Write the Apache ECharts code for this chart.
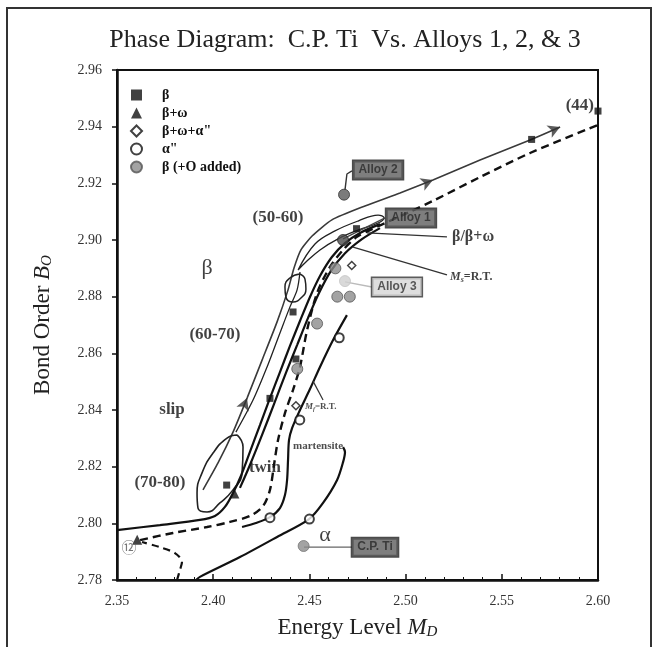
<!DOCTYPE html>
<html>
<head>
<meta charset="utf-8">
<script src="https://cdn.jsdelivr.net/npm/echarts@6/dist/echarts.min.js"></script>
<style>
  html, body { margin: 0; padding: 0; background: #fff; }
  #chart { width: 659px; height: 647px; }
</style>
</head>
<body>
<div id="chart"></div>
<script>
// Bo–Md phase diagram: commercially pure Ti against three beta alloys

const mdRange = [2.35, 2.60];
const boRange = [2.78, 2.96];
const mdStep = 0.05;
const boStep = 0.02;

// Alloys grouped by observed phase [Md, Bo]
const betaPts = [[2.600, 2.9455], [2.5655, 2.9355], [2.4745, 2.904], [2.4415, 2.8746],
                 [2.443, 2.858], [2.4295, 2.8441], [2.407, 2.8135]];
const betaOmegaPts = [[2.411, 2.8105], [2.3605, 2.7942]];
const betaOmegaAlphaPts = [[2.472, 2.891], [2.443, 2.8415]];
const alphaDblPts = [[2.4655, 2.8655], [2.445, 2.8365], [2.4295, 2.802], [2.450, 2.8015]];
const betaOxygenPts = [[2.4635, 2.890], [2.4645, 2.880], [2.471, 2.880], [2.454, 2.8705], [2.4437, 2.8545]];
const alloy1 = [2.4675, 2.900];
const alloy2 = [2.468, 2.916];
const alloy3 = [2.4685, 2.8855];
const cpTi = [2.447, 2.792];

// Alloying vector (arrowed path)
const vectorPath = [[2.3947, 2.8118], [2.4025, 2.8213], [2.4103, 2.8322], [2.4176, 2.8442],
  [2.4254, 2.8576], [2.4332, 2.8711], [2.4389, 2.8824], [2.4420, 2.8901], [2.4456, 2.8965],
  [2.4514, 2.9014], [2.4617, 2.9071], [2.4789, 2.9120], [2.4971, 2.9166], [2.5142, 2.9212],
  [2.5387, 2.9282], [2.5647, 2.9353], [2.5803, 2.9399]];
const arrowAt = [3, 13, 16];

// Elastic modulus ranges (GPa)
const loop6070 = [[2.4118, 2.8322], [2.4207, 2.8435], [2.4280, 2.8552], [2.4347, 2.8672],
  [2.4399, 2.8764], [2.4436, 2.8824], [2.4451, 2.8887]];
const ring5060 = [[2.4451, 2.8880], [2.4477, 2.8862], [2.4482, 2.8827], [2.4456, 2.8795],
  [2.4415, 2.8781], [2.4378, 2.8799], [2.4373, 2.8834], [2.4399, 2.8866], [2.4451, 2.8880]];
const loop5060 = [[2.4441, 2.8894], [2.4529, 2.8986], [2.4633, 2.9032], [2.4753, 2.9067],
  [2.4857, 2.9088], [2.4888, 2.9078], [2.4857, 2.9060], [2.4753, 2.9035], [2.4649, 2.9004],
  [2.4555, 2.8965], [2.4482, 2.8922], [2.4441, 2.8894]];
const ring7080 = [[2.4124, 2.8312], [2.4155, 2.8269], [2.4150, 2.8178], [2.4103, 2.8118],
  [2.4035, 2.8072], [2.3968, 2.8040], [2.3921, 2.8054], [2.3916, 2.8107], [2.3942, 2.8178],
  [2.3999, 2.8248], [2.4072, 2.8301], [2.4124, 2.8312]];

// Phase boundaries
const betaOmegaLine = [[2.3500, 2.7976], [2.3723, 2.7994], [2.3931, 2.8012], [2.4009, 2.8026],
  [2.4061, 2.8058], [2.4103, 2.8107], [2.4144, 2.8167], [2.4191, 2.8252], [2.4243, 2.8347],
  [2.4295, 2.8442], [2.4347, 2.8534], [2.4399, 2.8626], [2.4451, 2.8714], [2.4503, 2.8799],
  [2.4555, 2.8873], [2.4617, 2.8940], [2.4685, 2.8989], [2.4763, 2.9025], [2.4867, 2.9056]];
const msLine = [[2.4139, 2.8125], [2.4191, 2.8206], [2.4254, 2.8312], [2.4316, 2.8421],
  [2.4378, 2.8531], [2.4436, 2.8629], [2.4493, 2.8725], [2.4550, 2.8813], [2.4612, 2.8891],
  [2.4685, 2.8953], [2.4773, 2.9003], [2.4867, 2.9042]];
const dashedLine = [[2.3620, 2.7941], [2.3791, 2.7966], [2.3968, 2.7987], [2.4087, 2.8005],
  [2.4191, 2.8026], [2.4259, 2.8061], [2.4295, 2.8118], [2.4316, 2.8206], [2.4337, 2.8294],
  [2.4373, 2.8389], [2.4415, 2.8471], [2.4451, 2.8552], [2.4488, 2.8682], [2.4540, 2.8813],
  [2.4607, 2.8905], [2.4675, 2.8965], [2.4747, 2.9011], [2.4815, 2.9035], [2.5007, 2.9095],
  [2.5142, 2.9138], [2.5387, 2.9222], [2.5647, 2.9307], [2.6000, 2.9406]];
const dashedHook = [[2.3812, 2.7800], [2.3827, 2.7835], [2.3838, 2.7864], [2.3801, 2.7895],
  [2.3723, 2.7916], [2.3630, 2.7934]];
const mfLine = [[2.4150, 2.7987], [2.4222, 2.8001], [2.4295, 2.8022], [2.4347, 2.8054],
  [2.4373, 2.8100], [2.4384, 2.8153], [2.4389, 2.8224], [2.4394, 2.8294], [2.4410, 2.8336],
  [2.4451, 2.8400], [2.4503, 2.8474], [2.4555, 2.8552], [2.4623, 2.8647], [2.4695, 2.8735]];
const martensiteLine = [[2.3911, 2.7800], [2.3931, 2.7811], [2.4139, 2.7881], [2.4332, 2.7952],
  [2.4498, 2.8015], [2.4571, 2.8072], [2.4644, 2.8153], [2.4675, 2.8216], [2.4685, 2.8252],
  [2.4675, 2.8269]];

// Leader lines from notes to the curves and points
const leaderBetaOmega = [[2.4799, 2.9025], [2.5215, 2.9011]];
const leaderMs = [[2.4727, 2.8975], [2.5215, 2.8877]];
const leaderMf = [[2.4519, 2.8502], [2.4571, 2.8435]];
const leaderAlloy2 = [[2.4685, 2.9177], [2.4695, 2.9233], [2.4721, 2.9244]];
const leaderAlloy1 = [[2.4675, 2.9004], [2.4893, 2.9078]];
const leaderAlloy3 = [[2.4685, 2.8852], [2.4825, 2.8834]];
const leaderCpTi = [[2.4472, 2.7916], [2.4721, 2.7916]];

const SERIF = "'Liberation Serif', 'DejaVu Serif', serif";
const SANS = "'Liberation Sans', Arial, sans-serif";

// Notes placed on the diagram: [Md, Bo, text, style]
const notes = [
  [2.5979, 2.9473, '(44)', 'num'],
  [2.4337, 2.9078, '(50-60)', 'region'],
  [2.3968, 2.8901, 'β', 'greek'],
  [2.4009, 2.8665, '(60-70)', 'region'],
  [2.3786, 2.8400, 'slip', 'region'],
  [2.3723, 2.8142, '(70-80)', 'region'],
  [2.4269, 2.8195, 'twin', 'region'],
  [2.4545, 2.8273, 'martensite', 'tiny'],
  [2.4581, 2.7959, 'α', 'greek'],
  [2.5241, 2.9011, 'β/β+ω', 'boundary'],
  [2.5231, 2.8869, '{m|M}{s|s}{t|=R.T.}', 'ms'],
  [2.4477, 2.8411, '{m|M}{s|f}{t|=R.T.}', 'mf'],
  [2.3562, 2.7909, '⑫', 'circled'],
  [2.4857, 2.9247, 'Alloy 2', 'boxDark'],
  [2.5028, 2.9078, 'Alloy 1', 'boxDark'],
  [2.4955, 2.8834, 'Alloy 3', 'boxLight'],
  [2.4841, 2.7916, 'C.P. Ti', 'boxDark']
];

const noteStyles = {
  num: { fontFamily: SERIF, fontSize: 17, fontWeight: 'bold', color: '#111', align: 'right' },
  region: { fontFamily: SERIF, fontSize: 17, fontWeight: 'bold', color: '#111', align: 'center' },
  greek: { fontFamily: SERIF, fontSize: 22, color: '#111', align: 'center' },
  tiny: { fontFamily: SERIF, fontSize: 11, fontWeight: 'bold', color: '#222', align: 'center' },
  boundary: { fontFamily: SERIF, fontSize: 16, fontWeight: 'bold', color: '#111', align: 'left' },
  ms: { align: 'left', rich: {
      m: { fontFamily: SERIF, fontSize: 12, fontStyle: 'italic', fontWeight: 'bold', color: '#111' },
      s: { fontFamily: SERIF, fontSize: 8, fontStyle: 'italic', fontWeight: 'bold', color: '#111', padding: [6, 0, 0, 0] },
      t: { fontFamily: SERIF, fontSize: 12, fontWeight: 'bold', color: '#111' } } },
  mf: { align: 'left', rich: {
      m: { fontFamily: SERIF, fontSize: 9, fontStyle: 'italic', fontWeight: 'bold', color: '#222' },
      s: { fontFamily: SERIF, fontSize: 6, fontStyle: 'italic', fontWeight: 'bold', color: '#222', padding: [5, 0, 0, 0] },
      t: { fontFamily: SERIF, fontSize: 9, fontWeight: 'bold', color: '#222' } } },
  circled: { fontFamily: "'DejaVu Sans', 'Noto Sans CJK SC', sans-serif", fontSize: 15, color: '#555', align: 'center' },
  boxDark: { fontFamily: SANS, fontSize: 12, fontWeight: 'bold', color: '#2a2a2a', align: 'center',
             backgroundColor: '#5e5e5e', borderColor: '#1e1e1e', borderWidth: 1.5, padding: [3, 5, 3, 5] },
  boxLight: { fontFamily: SANS, fontSize: 12, fontWeight: 'bold', color: '#333', align: 'center',
              backgroundColor: '#d6d6d6', borderColor: '#333', borderWidth: 1.5, padding: [3, 5, 3, 5] }
};

function curve(name, data, opts) {
  return Object.assign({
    type: 'line', name: name, data: data, symbol: 'none', silent: true, z: 2,
    smooth: 0.3, animation: false,
    lineStyle: { color: '#111', width: 2 }
  }, opts || {});
}

const chart = echarts.init(document.getElementById('chart'), null, { renderer: 'canvas' });

const axisNameRich = {
  i: { fontFamily: SERIF, fontSize: 23, fontStyle: 'italic', color: '#222' },
  s: { fontFamily: SERIF, fontSize: 15, fontStyle: 'italic', color: '#222', padding: [9, 0, 0, 0] }
};

const option = {
  animation: false,
  backgroundColor: '#fff',
  title: {
    text: 'Phase Diagram:  C.P. Ti  Vs. Alloys 1, 2, & 3',
    left: 340, top: 22, textAlign: 'center',
    textStyle: { fontFamily: SERIF, fontSize: 26, fontWeight: 'normal', color: '#222' }
  },
  graphic: [{
    type: 'rect', shape: { x: 7, y: 8, width: 644, height: 660 },
    style: { fill: 'none', stroke: '#333', lineWidth: 2 }, silent: true
  }],
  grid: { left: 117, right: 61, top: 70, bottom: 67, show: true, borderColor: '#111', borderWidth: 2, backgroundColor: 'transparent' },
  legend: {
    orient: 'vertical', left: 125, top: 83, itemWidth: 11, itemHeight: 11, itemGap: 4,
    textStyle: { fontFamily: SERIF, fontSize: 14, fontWeight: 'bold', color: '#111', lineHeight: 11, padding: [0, 0, 0, 15] },
    data: ['β', 'β+ω', 'β+ω+α"', 'α"', 'β (+O added)'],
    selectedMode: false
  },
  xAxis: {
    type: 'value', min: mdRange[0], max: mdRange[1], interval: mdStep,
    name: 'Energy Level {i|M}{s|D}', nameLocation: 'middle', nameGap: 36,
    nameTextStyle: { fontFamily: SERIF, fontSize: 23, color: '#222', rich: axisNameRich },
    axisLine: { lineStyle: { color: '#111', width: 2.5 } },
    axisTick: { inside: true, length: 6, lineStyle: { color: '#111', width: 1.5 } },
    minorTick: { show: true, splitNumber: 5, length: 3, lineStyle: { color: '#111', width: 1 } },
    axisLabel: { fontFamily: SERIF, fontSize: 14, color: '#333', margin: 14, formatter: v => v.toFixed(2) },
    splitLine: { show: false }
  },
  yAxis: {
    type: 'value', min: boRange[0], max: boRange[1], interval: boStep,
    name: 'Bond Order {i|B}{s|O}', nameLocation: 'middle', nameGap: 62, nameRotate: 90,
    nameTextStyle: { fontFamily: SERIF, fontSize: 23, color: '#222', rich: axisNameRich },
    axisLine: { lineStyle: { color: '#111', width: 2.5 } },
    axisTick: { inside: false, length: 5, lineStyle: { color: '#111', width: 1.5 } },
    axisLabel: { fontFamily: SERIF, fontSize: 14, color: '#333', margin: 15, formatter: v => v.toFixed(2) },
    splitLine: { show: false }
  },
  series: [
    curve('vector', vectorPath, { lineStyle: { color: '#3a3a3a', width: 1.6 }, smooth: 0.2 }),
    curve('loop6070', loop6070, { lineStyle: { color: '#222', width: 1.3 } }),
    curve('ring5060', ring5060, { lineStyle: { color: '#222', width: 1.5 }, smooth: 0.5 }),
    curve('loop5060', loop5060, { lineStyle: { color: '#222', width: 1.3 }, smooth: 0.4 }),
    curve('ring7080', ring7080, { lineStyle: { color: '#222', width: 1.6 }, smooth: 0.5 }),
    curve('betaOmegaLine', betaOmegaLine, { lineStyle: { color: '#111', width: 2.2 } }),
    curve('msLine', msLine, { lineStyle: { color: '#111', width: 2.2 } }),
    curve('dashedLine', dashedLine, { lineStyle: { color: '#111', width: 2.4, type: [8, 5] } }),
    curve('dashedHook', dashedHook, { lineStyle: { color: '#111', width: 2.2, type: [7, 5] } }),
    curve('mfLine', mfLine, { lineStyle: { color: '#111', width: 2.2 } }),
    curve('martensiteLine', martensiteLine, { lineStyle: { color: '#111', width: 2.2 } }),
    curve('leaderBetaOmega', leaderBetaOmega, { smooth: false, lineStyle: { color: '#333', width: 1.4 } }),
    curve('leaderMs', leaderMs, { smooth: false, lineStyle: { color: '#333', width: 1.4 } }),
    curve('leaderMf', leaderMf, { smooth: false, lineStyle: { color: '#333', width: 1.2 } }),
    curve('leaderAlloy2', leaderAlloy2, { smooth: false, lineStyle: { color: '#333', width: 1.4 } }),
    curve('leaderAlloy1', leaderAlloy1, { smooth: false, lineStyle: { color: '#444', width: 1.2 } }),
    curve('leaderAlloy3', leaderAlloy3, { smooth: false, lineStyle: { color: '#bbb', width: 1.4 } }),
    curve('leaderCpTi', leaderCpTi, { smooth: false, lineStyle: { color: '#666', width: 1.4 } }),
    {
      id: 'arrows', type: 'scatter', silent: true, z: 3, clip: false,
      symbol: 'arrow', symbolSize: [10, 12], itemStyle: { color: '#333' }, data: []
    },
    {
      type: 'scatter', name: 'β', data: betaPts, symbol: 'rect', symbolSize: 7, z: 4, clip: false,
      itemStyle: { color: '#111' }
    },
    {
      type: 'scatter', name: 'β+ω', data: betaOmegaPts, symbol: 'triangle', symbolSize: 10, z: 4,
      itemStyle: { color: '#111' }
    },
    {
      type: 'scatter', name: 'β+ω+α"', data: betaOmegaAlphaPts, symbol: 'diamond', symbolSize: 8, z: 4,
      itemStyle: { color: '#fff', borderColor: '#111', borderWidth: 1.5 }
    },
    {
      type: 'scatter', name: 'α"', data: alphaDblPts, symbol: 'circle', symbolSize: 9, z: 4,
      itemStyle: { color: '#fff', borderColor: '#111', borderWidth: 2 }
    },
    {
      type: 'scatter', name: 'β (+O added)', symbol: 'circle', symbolSize: 11, z: 4,
      itemStyle: { color: '#8c8c8c', borderColor: '#555', borderWidth: 1 },
      data: betaOxygenPts.concat([
        { value: alloy2, itemStyle: { color: '#5a5a5a', borderColor: '#333' } },
        { value: alloy1, itemStyle: { color: '#4a4a4a', borderColor: '#222' } },
        { value: alloy3, itemStyle: { color: '#d0d0d0', borderColor: '#c4c4c4' } },
        { value: cpTi, itemStyle: { color: '#8c8c8c', borderColor: '#777' } }
      ])
    },
    {
      type: 'scatter', name: 'notes', silent: true, symbolSize: 0, z: 6, clip: false,
      data: notes.map(n => ({
        value: [n[0], n[1]],
        label: Object.assign({ show: true, position: 'inside', verticalAlign: 'middle', formatter: n[2] }, noteStyles[n[3]])
      }))
    }
  ]
};

chart.setOption(option);

// Orient each arrowhead along the local direction of the vector path
const arrowItems = arrowAt.map(i => {
  const a = chart.convertToPixel({ gridIndex: 0 }, vectorPath[i - 1]);
  const b = chart.convertToPixel({ gridIndex: 0 }, vectorPath[Math.min(i + 1, vectorPath.length - 1)]);
  const deg = Math.atan2(-(b[1] - a[1]), b[0] - a[0]) * 180 / Math.PI;
  return { value: vectorPath[i], symbolRotate: deg - 90 };
});
chart.setOption({ series: [{ id: 'arrows', data: arrowItems }] });
</script>
</body>
</html>
